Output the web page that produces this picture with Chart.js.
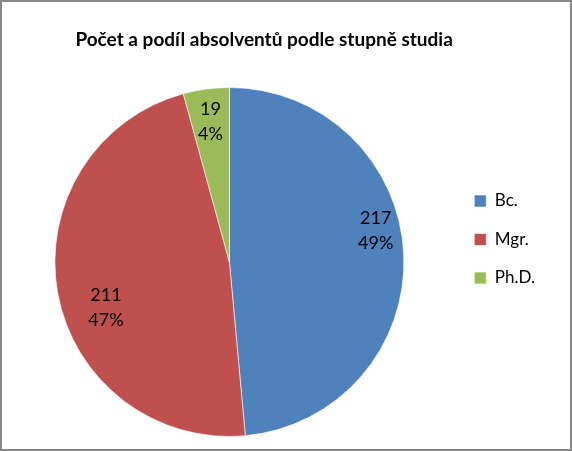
<!DOCTYPE html>
<html lang="cs">
<head>
<meta charset="UTF-8">
<title>Počet a podíl absolventů podle stupně studia</title>
<script src="https://cdn.jsdelivr.net/npm/chart.js"></script>
<style>
  html, body { margin: 0; padding: 0; background: #fff; }
  .ramecek {
    width: 572px; height: 451px;
    box-sizing: border-box;
    border: 2px solid #878787;
    background: #fff;
  }
  .graf { position: relative; width: 568px; height: 447px; }
</style>
</head>
<body>
<div class="ramecek">
  <div class="graf"><canvas id="stupne"></canvas></div>
</div>
<script>
// data z obrazku
var stupne = ['Bc.', 'Mgr.', 'Ph.D.'];
var pocty = [217, 211, 19];
var barvy = ['#4F81BD', '#C0504D', '#9BBB59'];
var nadpis = 'Počet a podíl absolventů podle stupně studia';

// popisky v kolacich (hodnota + procenta), posun jako v excelu
var popiskyPlugin = {
  id: 'popisky',
  afterDatasetsDraw(chart, args, opts) {
    var ctx = chart.ctx;
    var meta = chart.getDatasetMeta(0);
    var data = chart.data.datasets[0].data;
    var celkem = data.reduce((a, b) => a + b, 0);
    ctx.save();
    ctx.font = opts.font;
    ctx.fillStyle = opts.color;
    ctx.textAlign = 'center';
    ctx.textBaseline = 'middle';
    meta.data.forEach((arc, i) => {
      var p = arc.getProps(['x', 'y', 'startAngle', 'endAngle', 'outerRadius'], true);
      var uhel = (p.startAngle + p.endAngle) / 2 + opts.posunUhlu[i] * Math.PI / 180;
      var r = p.outerRadius * opts.polomer[i];
      var x = p.x + Math.cos(uhel) * r;
      var y = p.y + Math.sin(uhel) * r;
      var pct = Math.round(data[i] / celkem * 100) + '%';
      ctx.fillText(String(data[i]), x, y - opts.radek / 2);
      ctx.fillText(pct, x, y + opts.radek / 2);
    });
    ctx.restore();
  }
};

new Chart(document.getElementById('stupne').getContext('2d'), {
  type: 'pie',
  data: {
    labels: stupne,
    datasets: [{
      data: pocty,
      backgroundColor: barvy,
      borderColor: 'rgba(255,255,255,0.6)',
      borderWidth: 1
    }]
  },
  plugins: [popiskyPlugin],
  options: {
    responsive: true,
    maintainAspectRatio: false,
    animation: false,
    events: [],
    layout: { padding: { top: 40, bottom: 12, left: 4, right: 25 } },
    plugins: {
      title: {
        display: true,
        text: nadpis,
        fullSize: false,
        align: 'end',
        color: '#000',
        font: { family: 'Lato', size: 19, weight: 'bold', lineHeight: 1.2 },
        padding: { top: -13.9, bottom: 36.1 }
      },
      legend: {
        position: 'right',
        labels: {
          color: '#000',
          font: { family: 'Lato', size: 17 },
          boxWidth: 12,
          boxHeight: 12,
          padding: 21.5
        }
      },
      tooltip: { enabled: false },
      popisky: {
        font: '18px Lato',
        color: '#000',
        radek: 25,
        posunUhlu: [-9.4, -10, 0],
        polomer: [0.857, 0.754, 0.812]
      }
    }
  }
});
</script>
</body>
</html>
